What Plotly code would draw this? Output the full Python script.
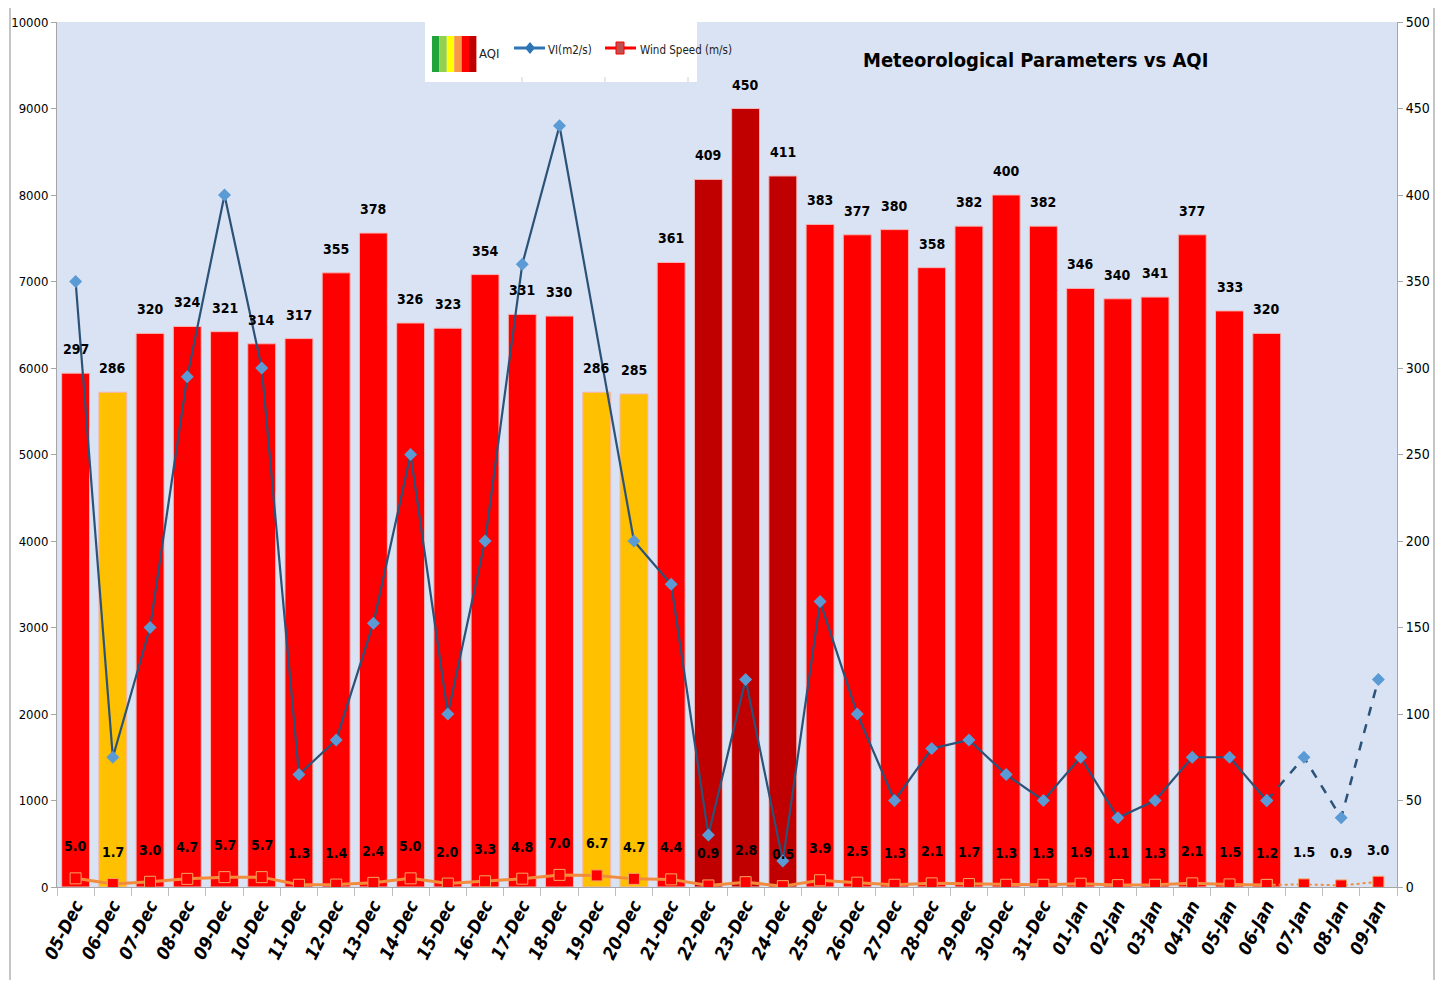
import plotly.graph_objects as go

dates = ["05-Dec","06-Dec","07-Dec","08-Dec","09-Dec","10-Dec","11-Dec","12-Dec","13-Dec","14-Dec",
         "15-Dec","16-Dec","17-Dec","18-Dec","19-Dec","20-Dec","21-Dec","22-Dec","23-Dec","24-Dec",
         "25-Dec","26-Dec","27-Dec","28-Dec","29-Dec","30-Dec","31-Dec","01-Jan","02-Jan","03-Jan",
         "04-Jan","05-Jan","06-Jan","07-Jan","08-Jan","09-Jan"]
aqi = [297,286,320,324,321,314,317,355,378,326,323,354,331,330,286,285,361,409,450,411,
       383,377,380,358,382,400,382,346,340,341,377,333,320,None,None,None]
aqi_band = ["Very Poor","Poor","Very Poor","Very Poor","Very Poor","Very Poor","Very Poor","Very Poor",
            "Very Poor","Very Poor","Very Poor","Very Poor","Very Poor","Very Poor","Poor","Poor",
            "Very Poor","Severe","Severe","Severe","Very Poor","Very Poor","Very Poor","Very Poor",
            "Very Poor","Very Poor","Very Poor","Very Poor","Very Poor","Very Poor","Very Poor",
            "Very Poor","Very Poor",None,None,None]
vi = [7000,1500,3000,5900,8000,6000,1300,1700,3050,5000,2000,4000,7200,8800,None,4000,3500,600,2400,300,
      3300,2000,1000,1600,1700,1300,1000,1500,800,1000,1500,1500,1000,1500,800,2400]
wind = [5.0,1.7,3.0,4.7,5.7,5.7,1.3,1.4,2.4,5.0,2.0,3.3,4.8,7.0,6.7,4.7,4.4,0.9,2.8,0.5,
        3.9,2.5,1.3,2.1,1.7,1.3,1.3,1.9,1.1,1.3,2.1,1.5,1.2,1.5,0.9,3.0]
forecast_start = "06-Jan"

FONT = "DejaVu Sans Condensed, Liberation Sans Narrow, Roboto Condensed, Roboto, sans-serif"
BAND_COLORS = {"Poor": "#FFC000", "Very Poor": "#FF0000", "Severe": "#C00000", None: "rgba(0,0,0,0)"}

k = dates.index(forecast_start)
vi_obs = [v if i <= k else None for i, v in enumerate(vi)]
vi_fc = [v if i >= k else None for i, v in enumerate(vi)]
w_obs = [v if i <= k else None for i, v in enumerate(wind)]
w_fc = [v if i >= k else None for i, v in enumerate(wind)]

fig = go.Figure()
fig.add_trace(go.Bar(x=dates, y=aqi, marker=dict(color=[BAND_COLORS[b] for b in aqi_band],
                     line=dict(color="#F4B6B6", width=1)), width=0.75, yaxis="y", name="AQI"))
fig.add_trace(go.Scatter(x=dates, y=w_obs, mode="lines+markers", yaxis="y",
                         line=dict(color="#F28C3C", width=3),
                         marker=dict(symbol="square", size=11, color="#FF0000",
                                     line=dict(color="#F4A460", width=1)), name="Wind Speed (m/s)"))
fig.add_trace(go.Scatter(x=dates, y=w_fc, mode="lines+markers", yaxis="y",
                         line=dict(color="#F28C3C", width=2, dash="dot"),
                         marker=dict(symbol="square", size=11, color="#FF0000",
                                     line=dict(color="#F4A460", width=1)), showlegend=False))
fig.add_trace(go.Scatter(x=dates, y=vi_obs, mode="lines+markers", yaxis="y2", connectgaps=True,
                         line=dict(color="#2B5278", width=2.2),
                         marker=dict(symbol="diamond", size=10, color="#5B9BD5"), name="VI(m2/s)"))
fig.add_trace(go.Scatter(x=dates, y=vi_fc, mode="lines+markers", yaxis="y2",
                         line=dict(color="#2B5278", width=2.5, dash="dash"),
                         marker=dict(symbol="diamond", size=10, color="#5B9BD5"), showlegend=False))

ann = []
for d, v in zip(dates, aqi):
    if v is not None:
        ann.append(dict(x=d, y=v, xref="x", yref="y", text=str(v), showarrow=False, yshift=24,
                        xanchor="center", yanchor="middle",
                        font=dict(family=FONT, size=14, color="black", weight="bold")))
for d, v in zip(dates, wind):
    ann.append(dict(x=d, y=v, xref="x", yref="y", text=f"{v:.1f}", showarrow=False, yshift=32,
                    xanchor="center", yanchor="middle",
                    font=dict(family=FONT, size=14, color="black", weight="bold")))

# screenshot-pixel reference frame of the plot area
L, R, T, B = 57, 1397, 22, 887
def px(x):
    return (x - L) / (R - L)
def py(y):
    return (B - y) / (B - T)

ann.append(dict(x=px(1035), y=py(60), xref="paper", yref="paper", text="Meteorological Parameters vs AQI",
                showarrow=False, xanchor="center", yanchor="middle",
                font=dict(family=FONT, size=20, color="black", weight="bold")))
ann.append(dict(x=px(477), y=py(53), xref="paper", yref="paper", text="AQI", showarrow=False,
                xanchor="left", yanchor="middle", font=dict(family=FONT, size=13, color="#222")))
ann.append(dict(x=px(546), y=py(50), xref="paper", yref="paper", text="VI(m2/s)", showarrow=False,
                xanchor="left", yanchor="middle", font=dict(family=FONT, size=11.5, color="#222")))
ann.append(dict(x=px(638), y=py(50), xref="paper", yref="paper", text="Wind Speed (m/s)", showarrow=False,
                xanchor="left", yanchor="middle", font=dict(family=FONT, size=11.5, color="#222")))

shapes = []
shapes.append(dict(type="rect", xref="paper", yref="paper", x0=px(10), x1=px(1434), y0=py(1000), y1=py(4),
                   line=dict(color="#8C8C8C", width=1), layer="below"))
shapes.append(dict(type="rect", xref="paper", yref="paper", x0=px(425), x1=px(697), y0=py(82), y1=py(22),
                   fillcolor="white", line=dict(width=0)))
swatch = ["#1FA33A", "#92D050", "#FFFF00", "#F79646", "#FF0000", "#C00000"]
sx = 432
for c in swatch:
    shapes.append(dict(type="rect", xref="paper", yref="paper", x0=px(sx), x1=px(sx + 7.4),
                       y0=py(72), y1=py(36), fillcolor=c, line=dict(width=0)))
    sx += 7.4
shapes.append(dict(type="line", xref="paper", yref="paper", x0=px(514), x1=px(545), y0=py(48), y1=py(48),
                   line=dict(color="#2E75B6", width=3)))
shapes.append(dict(type="path", xref="paper", yref="paper",
                   path=f"M {px(530)},{py(42)} L {px(535)},{py(48)} L {px(530)},{py(54)} L {px(525)},{py(48)} Z",
                   fillcolor="#2E75B6", line=dict(width=0)))
shapes.append(dict(type="line", xref="paper", yref="paper", x0=px(605), x1=px(636), y0=py(48), y1=py(48),
                   line=dict(color="#FF0000", width=3)))
shapes.append(dict(type="rect", xref="paper", yref="paper", x0=px(616), x1=px(624), y0=py(54), y1=py(42),
                   fillcolor="#C0504D", line=dict(color="#FF0000", width=1)))
for xx in (522, 605, 688):
    shapes.append(dict(type="line", xref="paper", yref="paper", x0=px(xx), x1=px(xx), y0=py(82), y1=py(77),
                       line=dict(color="#D0D0D0", width=1)))

# page has an 8px body margin: figure coords = screenshot coords - 8
W, H = 1430, 972
fig.update_layout(
    width=W, height=H,
    margin=dict(l=L - 8, r=W - (R - 8), t=T - 8, b=H - (B - 8), autoexpand=False),
    paper_bgcolor="white", plot_bgcolor="#DAE3F3",
    showlegend=False, bargap=0.25,
    annotations=ann, shapes=shapes,
    font=dict(family=FONT, color="black"),
    xaxis=dict(type="category", categoryorder="array", categoryarray=dates, range=[-0.5, len(dates) - 0.5],
               tickangle=-63, tickson="boundaries", ticks="outside", ticklen=8, tickcolor="#BFBFBF",
               showline=True, linecolor="#A6A6A6", showgrid=False,
               tickfont=dict(family=FONT, size=18, color="black", weight="bold", style="italic")),
    yaxis=dict(side="right", range=[0, 500], dtick=50, showgrid=False, zeroline=False, tickformat="d",
               showline=True, linecolor="#A6A6A6", ticks="outside", ticklen=5, tickcolor="#A6A6A6",
               tickfont=dict(family=FONT, size=14, color="black")),
    yaxis2=dict(side="left", overlaying="y", range=[0, 10000], dtick=1000, showgrid=False, zeroline=False,
                tickformat="d",
                showline=True, linecolor="#A6A6A6", ticks="outside", ticklen=5, tickcolor="#A6A6A6",
                tickfont=dict(family=FONT, size=13, color="black")),
)

fig.write_html("out.html")
